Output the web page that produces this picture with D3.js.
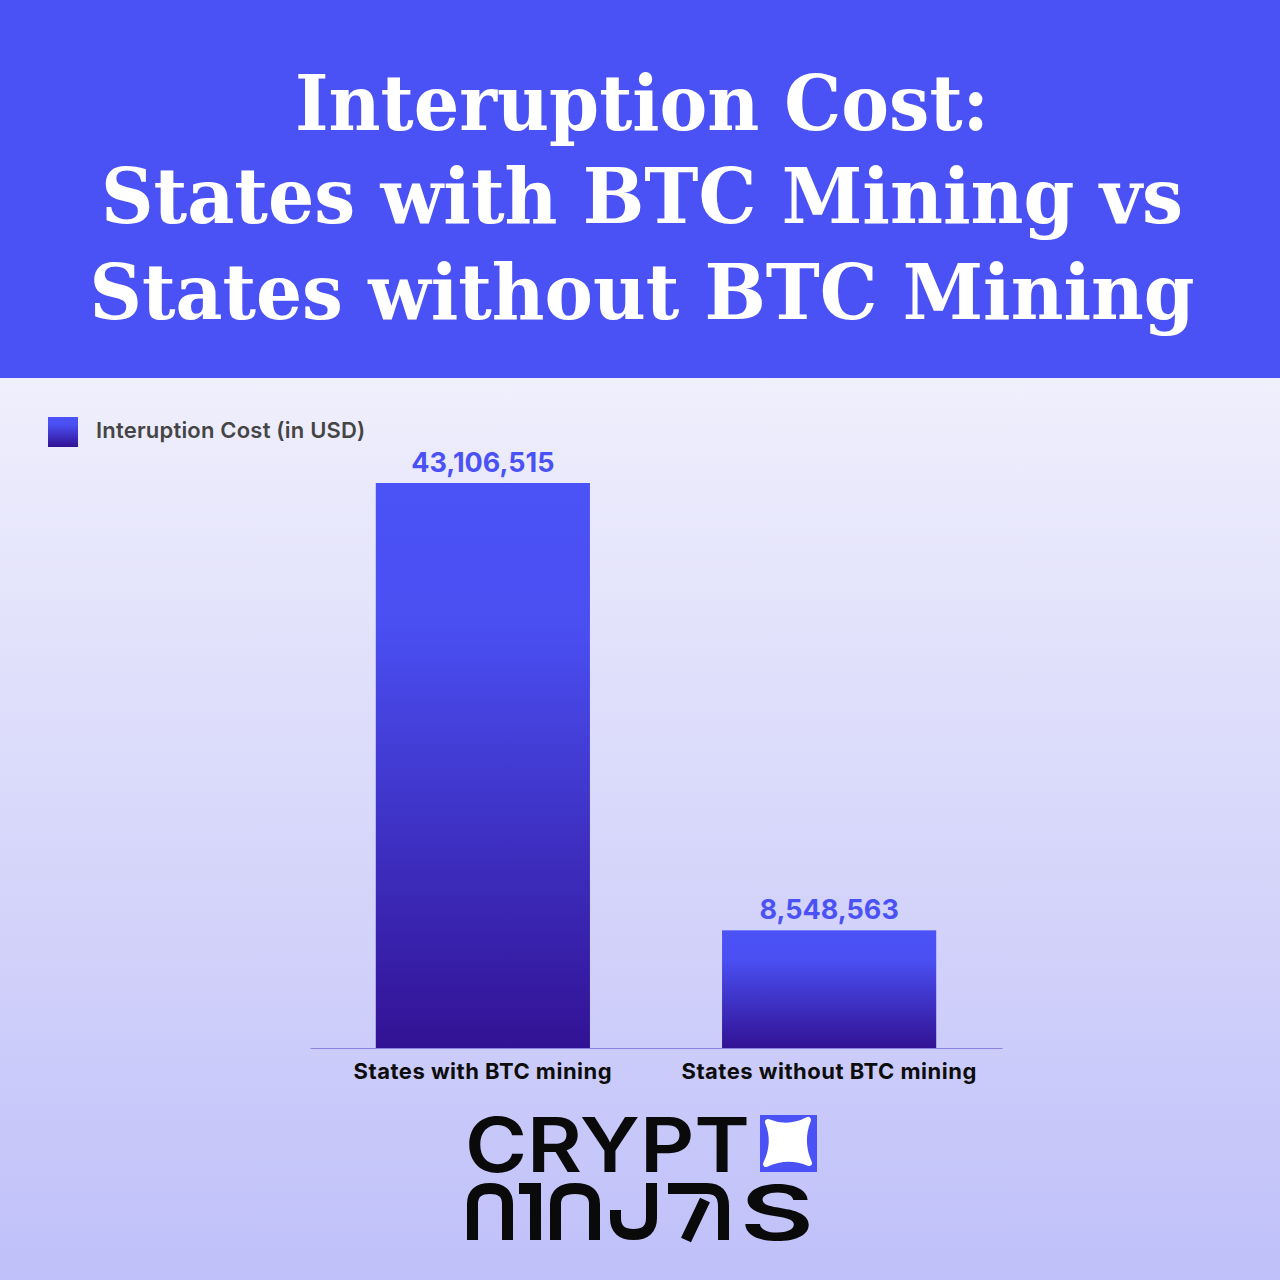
<!DOCTYPE html>
<html><head><meta charset="utf-8">
<script src="https://cdn.jsdelivr.net/npm/d3@7"></script>
<style>html,body{margin:0;padding:0;background:#fff}</style>
</head><body>
<svg id="c" width="1280" height="1280"></svg>
<script>
// ---- data ----
const titleLines = ["Interuption Cost:", "States with BTC Mining vs", "States without BTC Mining"];
const categories = ["States with BTC mining", "States without BTC mining"];
const values = [43106515, 8548563];
const seriesName = "Interuption Cost (in USD)";
const logoTop = "CRYPT";

const svg = d3.select("#c");
const defs = svg.append("defs");

const bg = defs.append("linearGradient").attr("id","bg").attr("x1",0).attr("y1",0).attr("x2",0).attr("y2",1);
bg.append("stop").attr("offset",0).attr("stop-color","#f0effc");
bg.append("stop").attr("offset",1).attr("stop-color","#bfc0f9");

const bar = defs.append("linearGradient").attr("id","bar").attr("x1",0).attr("y1",0).attr("x2",0).attr("y2",1);
bar.append("stop").attr("offset",0).attr("stop-color","#4b52f6");
bar.append("stop").attr("offset",0.25).attr("stop-color","#4a4ff2");
bar.append("stop").attr("offset",1).attr("stop-color","#321294");

// backgrounds
svg.append("rect").attr("x",0).attr("y",0).attr("width",1280).attr("height",378).attr("fill","#4b52f5");
svg.append("rect").attr("x",0).attr("y",378).attr("width",1280).attr("height",902).attr("fill","url(#bg)");

// title
const titleY = [130, 223, 319];
const titleW = [694, 1082, 1105];
svg.append("g").selectAll("text").data(titleLines).join("text")
  .attr("x",642).attr("y",(d,i)=>titleY[i])
  .attr("text-anchor","middle")
  .attr("font-family","DejaVu Serif").attr("font-weight","bold").attr("font-size",76)
  .attr("fill","#fff")
  .attr("textLength",(d,i)=>titleW[i]).attr("lengthAdjust","spacingAndGlyphs")
  .text(d=>d);

// legend
svg.append("rect").attr("x",48).attr("y",417).attr("width",30).attr("height",30).attr("fill","url(#bar)");
svg.append("text").attr("x",96).attr("y",438)
  .attr("font-family","Inter").attr("font-weight",600).attr("font-size",22)
  .attr("letter-spacing",0.2)
  .attr("fill","#454545").text(seriesName);

// scales
const x = d3.scaleBand().domain(categories).range([310,1002]).paddingInner(0.3815).paddingOuter(0.19);
const y = d3.scaleLinear().domain([0, d3.max(values)]).range([1041, 483]);
const base = 1048;

const data = categories.map((c,i)=>({c, v: values[i]}));

svg.append("g").selectAll("rect").data(data).join("rect")
  .attr("x",d=>x(d.c)).attr("width",x.bandwidth())
  .attr("y",d=>y(d.v)).attr("height",d=>base - y(d.v))
  .attr("fill","url(#bar)");

svg.append("g").selectAll("text").data(data).join("text")
  .attr("x",d=>x(d.c)+x.bandwidth()/2).attr("y",d=>y(d.v)-11)
  .attr("text-anchor","middle")
  .attr("font-family","Inter").attr("font-weight",700).attr("font-size",27)
  .attr("fill","#4b52f5")
  .text(d=>d3.format(",")(d.v));

// axis
const xAxis = d3.axisBottom(x).tickSize(0).tickPadding(15);
const ax = svg.append("g").attr("transform",`translate(0,${base})`).call(xAxis);
ax.select(".domain").attr("stroke","#8a85e2").attr("stroke-width",1.2);
ax.selectAll(".tick text")
  .attr("font-family","Inter").attr("font-weight",700).attr("font-size",22)
  .attr("letter-spacing",0.5)
  .attr("fill","#0d0d0d").attr("dy","0.72em");

// logo
const logo = svg.append("g");
logo.append("text").attr("x",465).attr("y",1172)
  .attr("font-family","Inter").attr("font-weight",600).attr("font-size",76)
  .attr("fill","#0a0a0a").attr("textLength",285).attr("lengthAdjust","spacingAndGlyphs")
  .text(logoTop);
logo.append("rect").attr("x",760).attr("y",1115).attr("width",57).attr("height",57).attr("fill","#4b52f5");
// star
const P = [[768,1122],[808,1120],[809,1163],[766,1164]];
const cx = 788, cy = 1142;
let sp = `M${P[0][0]},${P[0][1]}`;
for (let i=0;i<4;i++){
  const a=P[i], b=P[(i+1)%4];
  const mx=(a[0]+b[0])/2, my=(a[1]+b[1])/2;
  const qx = mx + (cx-mx)*0.45, qy = my + (cy-my)*0.45;
  sp += ` Q${qx},${qy} ${b[0]},${b[1]}`;
}
logo.append("path").attr("d",sp+"Z").attr("fill","#fff").attr("stroke","#fff").attr("stroke-width",6).attr("stroke-linejoin","round");

// second line stylised glyphs
const sw = 11;
const g2 = logo.append("g").attr("fill","none").attr("stroke","#0a0a0a").attr("stroke-width",sw);
const arch = (x0,x1)=>`M${x0+sw/2},1240 V1204 Q${x0+sw/2},${1183+sw/2} ${(x0+x1)/2},${1183+sw/2} Q${x1-sw/2},${1183+sw/2} ${x1-sw/2},1204 V1240`;
g2.append("path").attr("d",arch(467,513));
g2.append("path").attr("d","M519,1188.5 H535.5 V1240");
g2.append("path").attr("d",arch(550,600));
g2.append("path").attr("d",`M${657-sw/2},1183 V1218 Q${657-sw/2},${1240-sw/2} 633.5,${1240-sw/2} Q${610+sw/2},${1240-sw/2} ${610+sw/2},1218 V1210`);
g2.append("path").attr("d",`M668,1188.5 H707 Q${729-sw/2},1188.5 ${729-sw/2},1206 V1240 M705,1200 L686,1240`);
logo.append("text").attr("x",740).attr("y",1240)
  .attr("font-family","Inter").attr("font-weight",600).attr("font-size",76)
  .attr("fill","#0a0a0a").attr("textLength",74).attr("lengthAdjust","spacingAndGlyphs").text("S");
</script>
</body></html>
